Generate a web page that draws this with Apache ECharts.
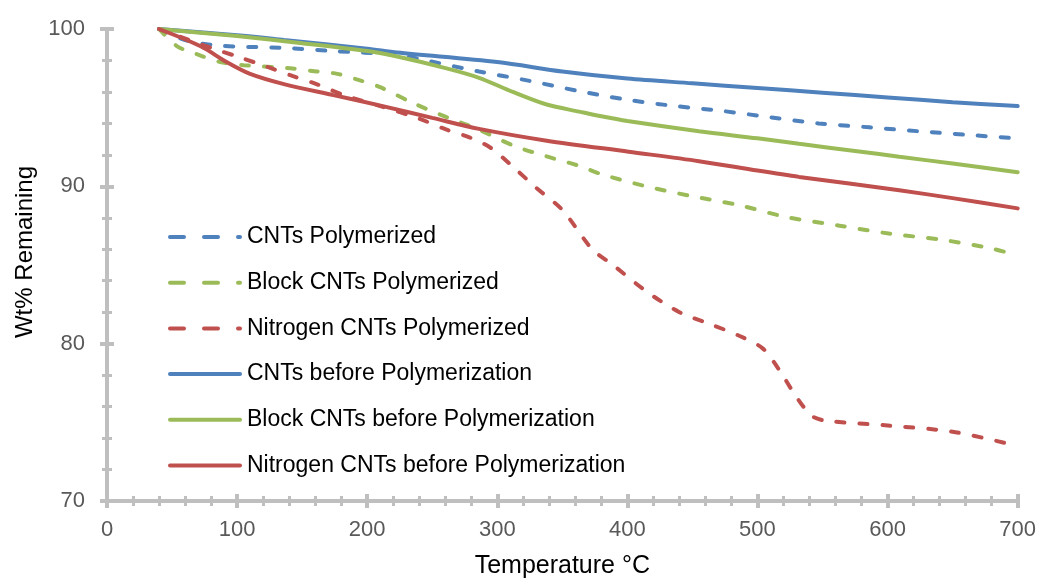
<!DOCTYPE html>
<html>
<head>
<meta charset="utf-8">
<script src="https://cdn.jsdelivr.net/npm/echarts@6/dist/echarts.min.js"></script>
<style>
html,body{margin:0;padding:0;background:#fff;}
#chart{width:1039px;height:584px;}
</style>
</head>
<body>
<div id="chart"></div>
<script>
// ---- Data ----
var seriesNames = [
  'CNTs Polymerized',
  'Block CNTs Polymerized',
  'Nitrogen CNTs Polymerized',
  'CNTs before Polymerization',
  'Block CNTs before Polymerization',
  'Nitrogen CNTs before Polymerization'
];

var cntsPolyT = [40, 60, 85, 136, 174, 223, 248, 286, 325, 363, 400, 437, 472, 500, 547, 586, 624, 665, 700];
var cntsPolyW = [100, 99.3, 98.95, 98.8, 98.6, 98.35, 97.95, 97.3, 96.7, 96.05, 95.5, 95.1, 94.8, 94.5, 94.0, 93.75, 93.5, 93.25, 93.05];

var blockPolyT = [40, 54, 69, 87, 105, 141, 161, 177, 192, 210, 235, 261, 286, 312, 338, 363, 379, 412, 448, 486, 522, 563, 601, 642, 680, 700];
var blockPolyW = [100, 98.9, 98.4, 97.9, 97.7, 97.5, 97.3, 97.15, 96.8, 96.3, 95.3, 94.4, 93.6, 92.6, 91.9, 91.3, 90.8, 90.05, 89.4, 88.8, 88.05, 87.5, 87.0, 86.6, 86.05, 85.6];

var nitroPolyT = [40, 80, 102, 123, 143, 161, 182, 210, 240, 261, 279, 294, 310, 330, 350, 373, 389, 415, 440, 465, 486, 504, 517, 530, 542, 553, 600, 650, 700];
var nitroPolyW = [100, 98.8, 98.2, 97.6, 97.0, 96.5, 95.8, 95.1, 94.3, 93.6, 93.1, 92.5, 91.4, 89.9, 88.5, 86.0, 85.0, 83.3, 82.0, 81.2, 80.5, 79.7, 78.3, 76.6, 75.4, 75.1, 74.8, 74.4, 73.5];

var cntsBeforeT = [40, 100, 136, 200, 223, 300, 350, 400, 450, 500, 550, 600, 650, 700];
var cntsBeforeW = [100, 99.6, 99.3, 98.75, 98.5, 97.9, 97.3, 96.85, 96.55, 96.25, 95.95, 95.65, 95.35, 95.1];

var blockBeforeT = [40, 100, 150, 200, 223, 261, 286, 312, 338, 363, 380, 400, 455, 500, 532, 575, 609, 650, 700];
var blockBeforeW = [100, 99.55, 99.1, 98.6, 98.25, 97.5, 96.9, 96.0, 95.2, 94.75, 94.45, 94.15, 93.5, 93.05, 92.7, 92.25, 91.88, 91.45, 90.9];

var nitroBeforeT = [40, 72, 92, 110, 136, 174, 212, 250, 286, 338, 401, 455, 500, 532, 609, 650, 700];
var nitroBeforeW = [100, 98.9, 97.9, 97.15, 96.5, 95.8, 95.1, 94.35, 93.65, 92.9, 92.2, 91.6, 91.0, 90.6, 89.75, 89.25, 88.6];

var xTicks = [0, 100, 200, 300, 400, 500, 600, 700];
var yTicks = [70, 80, 90, 100];

function pairs(t, w) {
  var out = [];
  for (var i = 0; i < t.length; i++) out.push([t[i], w[i]]);
  return out;
}

var BLUE = '#4f81bd', GREEN = '#9bbb59', RED = '#c0504d';
var FONT = "'Liberation Sans', Arial, sans-serif";
var AXIS = '#bfbfbf';
var DASH = [8, 15];
var LEGEND_DASH = [14, 20];
var seriesColors = [BLUE, GREEN, RED, BLUE, GREEN, RED];
var seriesDashed = [true, true, true, false, false, false];

function mkSeries(i, t, w, z) {
  return {
    name: seriesNames[i],
    type: 'line',
    data: pairs(t, w),
    smooth: 0.3,
    symbol: 'none',
    xAxisIndex: 0,
    yAxisIndex: 0,
    z: z,
    lineStyle: { color: seriesColors[i], width: 4, type: seriesDashed[i] ? DASH : 'solid', cap: 'round' },
    itemStyle: { color: seriesColors[i] }
  };
}

var legendData = seriesNames.map(function (n, i) {
  return {
    name: n,
    itemStyle: { opacity: 0 },
    lineStyle: { color: seriesColors[i], width: 4, type: seriesDashed[i] ? LEGEND_DASH : 'solid', cap: 'round' }
  };
});

var chart = echarts.init(document.getElementById('chart'));
var xBase = { type: 'value', min: xTicks[0], max: xTicks[xTicks.length - 1], interval: 100 };
var yBase = { type: 'value', min: yTicks[0], max: yTicks[yTicks.length - 1], interval: 10 };

chart.setOption({
  animation: false,
  backgroundColor: '#ffffff',
  grid: { left: 107, right: 20, top: 29, bottom: 80, containLabel: false },
  legend: {
    orient: 'vertical',
    left: 168,
    top: 225,
    padding: 0,
    itemWidth: 70,
    itemHeight: 14,
    itemGap: 21.7,
    data: legendData,
    itemStyle: { opacity: 0 },
    lineStyle: { width: 4, cap: 'round' },
    textStyle: { fontFamily: FONT, fontSize: 23, color: '#000', lineHeight: 24, padding: [0, 0, 0, 2] }
  },
  xAxis: [
    Object.assign({}, xBase, {
      position: 'bottom',
      name: 'Temperature °C',
      nameLocation: 'middle',
      nameGap: 53,
      nameTextStyle: { fontFamily: FONT, fontSize: 25, color: '#000' },
      axisLine: { show: true, lineStyle: { color: AXIS, width: 4 } },
      axisTick: { show: true, inside: false, length: 7, lineStyle: { color: AXIS, width: 4 } },
      minorTick: { show: true, splitNumber: 5, length: 5, lineStyle: { color: AXIS, width: 3 } },
      axisLabel: { fontFamily: FONT, fontSize: 22, color: '#595959', margin: 18 },
      splitLine: { show: false }
    }),
    Object.assign({}, xBase, {
      position: 'bottom',
      axisLine: { show: false },
      axisTick: { show: true, inside: true, length: 7, lineStyle: { color: AXIS, width: 4 } },
      minorTick: { show: true, splitNumber: 5, length: 5, lineStyle: { color: AXIS, width: 3 } },
      axisLabel: { show: false },
      splitLine: { show: false }
    })
  ],
  yAxis: [
    Object.assign({}, yBase, {
      position: 'left',
      name: 'Wt% Remaining',
      nameLocation: 'middle',
      nameGap: 68,
      nameTextStyle: { fontFamily: FONT, fontSize: 24, color: '#000', padding: [0, 0, 0, 26] },
      axisLine: { show: true, lineStyle: { color: AXIS, width: 4 } },
      axisTick: { show: true, inside: false, length: 7, lineStyle: { color: AXIS, width: 4 } },
      minorTick: { show: true, splitNumber: 5, length: 5, lineStyle: { color: AXIS, width: 3 } },
      axisLabel: { fontFamily: FONT, fontSize: 22, color: '#595959', margin: 22 },
      splitLine: { show: false }
    }),
    Object.assign({}, yBase, {
      position: 'left',
      axisLine: { show: false },
      axisTick: { show: true, inside: true, length: 7, lineStyle: { color: AXIS, width: 4 } },
      minorTick: { show: true, splitNumber: 5, length: 5, lineStyle: { color: AXIS, width: 3 } },
      axisLabel: { show: false },
      splitLine: { show: false }
    })
  ],
  series: [
    mkSeries(0, cntsPolyT, cntsPolyW, 2),
    mkSeries(1, blockPolyT, blockPolyW, 2),
    mkSeries(2, nitroPolyT, nitroPolyW, 2),
    mkSeries(3, cntsBeforeT, cntsBeforeW, 3),
    mkSeries(4, blockBeforeT, blockBeforeW, 3),
    mkSeries(5, nitroBeforeT, nitroBeforeW, 3)
  ]
});
</script>
</body>
</html>
